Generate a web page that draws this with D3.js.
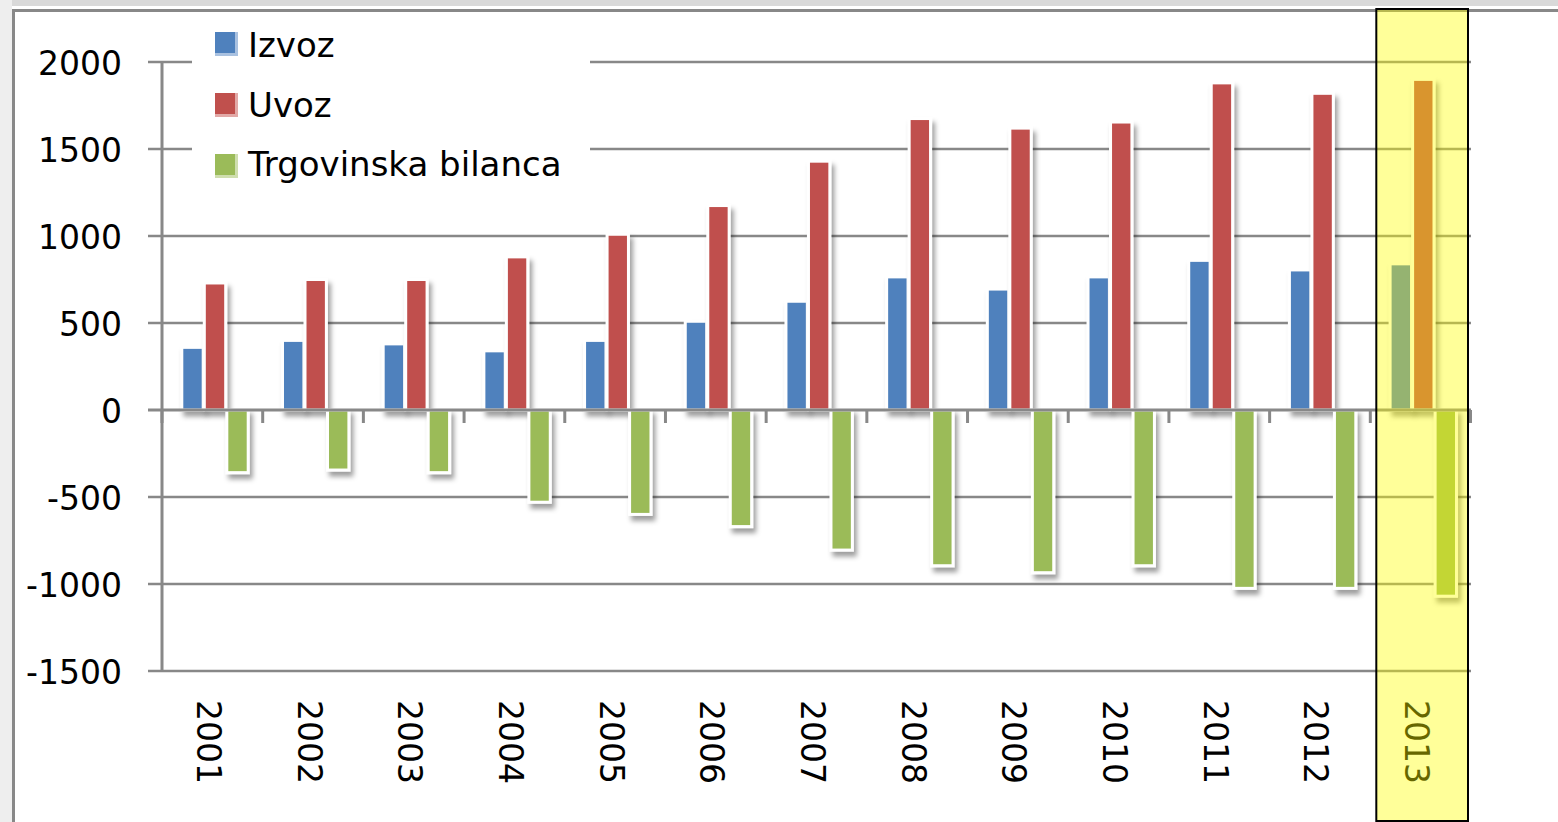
<!DOCTYPE html>
<html>
<head>
<meta charset="utf-8">
<script src="https://cdn.jsdelivr.net/npm/d3@7"></script>
<style>
  html, body { margin: 0; padding: 0; background: #ffffff; }
  svg { display: block; }
  text { font-family: "DejaVu Sans", Verdana, sans-serif; fill: #000; }
</style>
</head>
<body>
<svg id="chart" width="1558" height="822"></svg>
<script>
// ---- data ----
const years = ["2001","2002","2003","2004","2005","2006","2007","2008","2009","2010","2011","2012","2013"];
const izvoz = [360, 400, 380, 340, 400, 510, 625, 765, 695, 765, 860, 805, 840];
const uvoz = [730, 750, 750, 880, 1010, 1175, 1430, 1675, 1620, 1655, 1880, 1820, 1900];
const bilanca = [-360, -345, -360, -530, -600, -670, -805, -895, -935, -895, -1025, -1025, -1070];
const seriesNames = ["Izvoz", "Uvoz", "Trgovinska bilanca"];
const seriesColors = ["#4F81BD", "#C0504D", "#9BBB59"];
const seriesPale = ["#A9C1E0", "#E2A9A7", "#CFDEAE"];
const yTicks = [-1500, -1000, -500, 0, 500, 1000, 1500, 2000];
const highlightYear = "2013";

const svg = d3.select("#chart");
const W = 1558, H = 822;

// defs: shadow filter
const defs = svg.append("defs");
const f = defs.append("filter").attr("id", "shadow")
  .attr("x", "-50%").attr("y", "-20%").attr("width", "200%").attr("height", "140%");
f.append("feDropShadow").attr("dx", 3).attr("dy", 5).attr("stdDeviation", 2.5)
  .attr("flood-color", "#000").attr("flood-opacity", 0.38);

// outer background / frame
svg.append("rect").attr("x", 0).attr("y", 0).attr("width", W).attr("height", 6).attr("fill", "#D9D9D9");
svg.append("rect").attr("x", 0).attr("y", 0).attr("width", 12).attr("height", H).attr("fill", "#EEEEEE");
svg.append("line").attr("x1", 12).attr("x2", W).attr("y1", 10.5).attr("y2", 10.5)
  .attr("stroke", "#888888").attr("stroke-width", 3);
svg.append("line").attr("x1", 13.5).attr("x2", 13.5).attr("y1", 9).attr("y2", H)
  .attr("stroke", "#888888").attr("stroke-width", 3);

// scales
const plotLeft = 162, plotRight = 1471;
const y = d3.scaleLinear().domain([-1500, 2000]).range([671, 62]);
const x = d3.scaleBand().domain(years).range([plotLeft, plotRight]).padding(0);
const xs = d3.scaleBand().domain([0, 1, 2]).range([19.8, 86.2]).paddingInner(0.05).paddingOuter(0);

// gridlines
const gridG = svg.append("g");
gridG.selectAll("line.grid").data(yTicks.filter(t => t !== 0)).join("line")
  .attr("x1", 148).attr("x2", plotRight)
  .attr("y1", d => y(d)).attr("y2", d => y(d))
  .attr("stroke", "#888888").attr("stroke-width", 2.5);

// y axis line
svg.append("line").attr("x1", plotLeft).attr("x2", plotLeft)
  .attr("y1", y(2000) - 1).attr("y2", y(-1500) + 1)
  .attr("stroke", "#888888").attr("stroke-width", 3);

// y labels
svg.append("g").selectAll("text").data(yTicks).join("text")
  .attr("x", 122).attr("y", d => y(d) + 12.5)
  .attr("text-anchor", "end")
  .style("font-size", "33px")
  .text(d => d);

// bars
const data = years.map((yr, i) => ({ year: yr, vals: [izvoz[i], uvoz[i], bilanca[i]] }));
const barsG = svg.append("g");
data.forEach(d => {
  d.vals.forEach((v, s) => {
    const x0 = x(d.year) + xs(s);
    const y0 = Math.min(y(v), y(0));
    const h = Math.abs(y(v) - y(0));
    barsG.append("rect")
      .attr("x", x0).attr("y", y0)
      .attr("width", xs.bandwidth()).attr("height", h)
      .attr("fill", seriesColors[s])
      .attr("stroke", "#ffffff").attr("stroke-width", 3)
      .attr("filter", "url(#shadow)");
  });
});

// zero axis with ticks
svg.append("line").attr("x1", 148).attr("x2", plotRight)
  .attr("y1", y(0)).attr("y2", y(0))
  .attr("stroke", "#888888").attr("stroke-width", 3);
const tickXs = years.map(yr => x(yr)).concat([plotRight - 0.5]);
svg.append("g").selectAll("line").data(tickXs).join("line")
  .attr("x1", d => d).attr("x2", d => d)
  .attr("y1", y(0)).attr("y2", y(0) + 13)
  .attr("stroke", "#888888").attr("stroke-width", 3);

// x labels (rotated)
svg.append("g").selectAll("text").data(years).join("text")
  .attr("transform", d => `translate(${x(d) + x.bandwidth() / 2 - 15.5},700) rotate(90)`)
  .attr("text-anchor", "start")
  .style("font-size", "33px")
  .text(d => d);

// legend
const leg = svg.append("g");
leg.append("rect").attr("x", 192).attr("y", 18).attr("width", 398).attr("height", 176).attr("fill", "#ffffff");
seriesNames.forEach((name, i) => {
  const sy = 32 + i * 61;
  leg.append("rect").attr("x", 215).attr("y", sy).attr("width", 23).attr("height", 24)
    .attr("fill", seriesPale[i]);
  leg.append("rect").attr("x", 215).attr("y", sy).attr("width", 20).attr("height", 21)
    .attr("fill", seriesColors[i]);
  leg.append("text").attr("x", 248).attr("y", 57 + i * 59.5)
    .style("font-size", "34px").text(name);
});

// highlight box for 2013
const hx = x(highlightYear);
svg.append("rect")
  .attr("x", hx + 6).attr("y", 9)
  .attr("width", x.bandwidth() - 9).attr("height", 812)
  .attr("fill", "#FFFF00").attr("fill-opacity", 0.4)
  .attr("stroke", "#000").attr("stroke-width", 2);
</script>
</body>
</html>
